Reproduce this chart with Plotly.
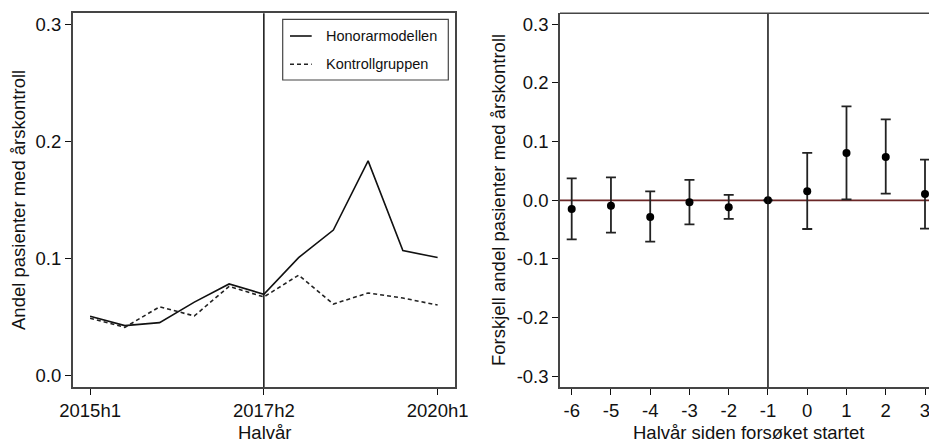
import plotly.graph_objects as go

# Left panel: share of patients with annual check-up per half-year
periods = ["2015h1", "2015h2", "2016h1", "2016h2", "2017h1", "2017h2",
           "2018h1", "2018h2", "2019h1", "2019h2", "2020h1"]
honorar = [0.051, 0.043, 0.0455, 0.063, 0.0785, 0.0697, 0.101, 0.1245, 0.1835, 0.107, 0.101]
kontroll = [0.0492, 0.0415, 0.059, 0.0512, 0.0765, 0.0674, 0.086, 0.0614, 0.0708, 0.0665, 0.0605]
left_ticks = ["2015h1", "2017h2", "2020h1"]
left_yticks = [0.0, 0.1, 0.2, 0.3]

# Right panel: estimated difference with 95% intervals, by half-year since start
rel_half = [-6, -5, -4, -3, -2, -1, 0, 1, 2, 3]
estimate = [-0.0148, -0.0091, -0.0284, -0.0034, -0.0119, 0.0, 0.0153, 0.0807, 0.0739, 0.0108]
ci_high = [0.0375, 0.0392, 0.0153, 0.0347, 0.0091, None, 0.0807, 0.1602, 0.1381, 0.0693]
ci_low = [-0.0665, -0.0551, -0.0705, -0.0409, -0.0318, None, -0.0489, 0.0017, 0.0114, -0.0483]
right_yticks = [-0.3, -0.2, -0.1, 0.0, 0.1, 0.2, 0.3]

FONT = "Liberation Sans, Arial, sans-serif"
INK = "#111111"
FRAME = "#454545"
W, H = 929, 444


def px_x(p):
    return p / W


def px_y(p):
    return (H - p) / H


err_plus = [None if h is None else h - e for h, e in zip(ci_high, estimate)]
err_minus = [None if l is None else e - l for l, e in zip(ci_low, estimate)]

fig = go.Figure()

fig.add_trace(go.Scatter(
    x=periods, y=honorar, mode="lines", name="Honorarmodellen",
    line=dict(color=INK, width=1.6), xaxis="x", yaxis="y", showlegend=False))
fig.add_trace(go.Scatter(
    x=periods, y=kontroll, mode="lines", name="Kontrollgruppen",
    line=dict(color="#222222", width=1.6, dash="4px,3px"), xaxis="x", yaxis="y",
    showlegend=False))

fig.add_trace(go.Scatter(
    x=rel_half, y=estimate, mode="markers",
    marker=dict(color="black", size=8),
    error_y=dict(type="data", array=err_plus, arrayminus=err_minus,
                 color="#222222", thickness=1.8, width=5),
    xaxis="x2", yaxis="y2", showlegend=False))

axis_common = dict(
    showline=True, linecolor=FRAME, linewidth=1.5, ticks="outside",
    ticklen=6, tickwidth=1, tickcolor=INK, showgrid=False, zeroline=False,
    automargin=False,
    tickfont=dict(family=FONT, size=18.5, color=INK))

fig.update_layout(
    width=W, height=H,
    margin=dict(l=0, r=0, t=0, b=0),
    paper_bgcolor="white", plot_bgcolor="white",
    font=dict(family=FONT, color=INK),
    xaxis=dict(axis_common, domain=[px_x(72.7), px_x(455)], range=[-0.5, 10.5],
               type="category", categoryorder="array", categoryarray=periods,
               tickmode="array", tickvals=left_ticks, ticktext=left_ticks,
               mirror=True, anchor="y"),
    yaxis=dict(axis_common, domain=[px_y(387), px_y(13.3)], range=[-0.0094, 0.3094],
               tickmode="array", tickvals=left_yticks,
               ticktext=[f"{v:.1f}" for v in left_yticks], mirror=True, anchor="x"),
    xaxis2=dict(axis_common, domain=[px_x(560), 1.0], range=[-6.298, 3.102],
                tickmode="array", tickvals=rel_half, ticktext=[str(v) for v in rel_half],
                ticklabeloverflow="allow", anchor="y2"),
    yaxis2=dict(axis_common, domain=[px_y(387.3), px_y(13.3)], range=[-0.3188, 0.3188],
                tickmode="array", tickvals=right_yticks,
                ticktext=[f"{v:.1f}" for v in right_yticks], anchor="x2"),
)

shapes = [
    # start of the trial (2017h2) in the left panel
    dict(type="line", xref="x", yref="y domain", x0=5, x1=5, y0=0, y1=1,
         line=dict(color=INK, width=1.5)),
    # reference period in the right panel
    dict(type="line", xref="x2", yref="y2 domain", x0=-1, x1=-1, y0=0, y1=1,
         line=dict(color=INK, width=1.5)),
    # zero line in the right panel
    dict(type="line", xref="x2 domain", yref="y2", x0=0, x1=1, y0=0, y1=0,
         line=dict(color="#6a2626", width=1.8), layer="below"),
    # top border of the right panel
    dict(type="line", xref="x2 domain", yref="y2 domain", x0=0, x1=1, y0=1, y1=1,
         line=dict(color=FRAME, width=1.5)),
    # legend box
    dict(type="rect", xref="paper", yref="paper",
         x0=px_x(282.7), x1=px_x(448.3), y0=px_y(80), y1=px_y(19.3),
         line=dict(color=FRAME, width=1.2), fillcolor="white"),
    dict(type="line", xref="paper", yref="paper",
         x0=px_x(290), x1=px_x(311.7), y0=px_y(36), y1=px_y(36),
         line=dict(color=INK, width=1.6)),
    dict(type="line", xref="paper", yref="paper",
         x0=px_x(290), x1=px_x(311.7), y0=px_y(64.3), y1=px_y(64.3),
         line=dict(color="#222222", width=1.6, dash="4px,3px")),
]
fig.update_layout(shapes=shapes)

title_font = dict(family=FONT, size=18.5, color=INK)
annotations = [
    dict(text="Honorarmodellen", x=px_x(324.5), y=px_y(36), xref="paper", yref="paper",
         xanchor="left", yanchor="middle", showarrow=False, borderpad=0,
         font=dict(family=FONT, size=14.5, color=INK)),
    dict(text="Kontrollgruppen", x=px_x(324.5), y=px_y(64.3), xref="paper", yref="paper",
         xanchor="left", yanchor="middle", showarrow=False, borderpad=0,
         font=dict(family=FONT, size=14.5, color=INK)),
    dict(text="Halvår", x=px_x(264), y=0, xref="paper", yref="paper",
         xanchor="center", yanchor="bottom", showarrow=False, borderpad=0,
         font=title_font),
    dict(text="Halvår siden forsøket startet", x=px_x(748), y=0,
         xref="paper", yref="paper", xanchor="center", yanchor="bottom",
         showarrow=False, borderpad=0, font=title_font),
    dict(text="Andel pasienter med årskontroll", x=px_x(19), y=px_y(200),
         xref="paper", yref="paper", xanchor="center", yanchor="middle",
         textangle=-90, showarrow=False, font=title_font),
    dict(text="Forskjell andel pasienter med årskontroll", x=px_x(499), y=px_y(200),
         xref="paper", yref="paper", xanchor="center", yanchor="middle",
         textangle=-90, showarrow=False, font=title_font),
]
fig.update_layout(annotations=annotations)

fig.write_html("out.html")
